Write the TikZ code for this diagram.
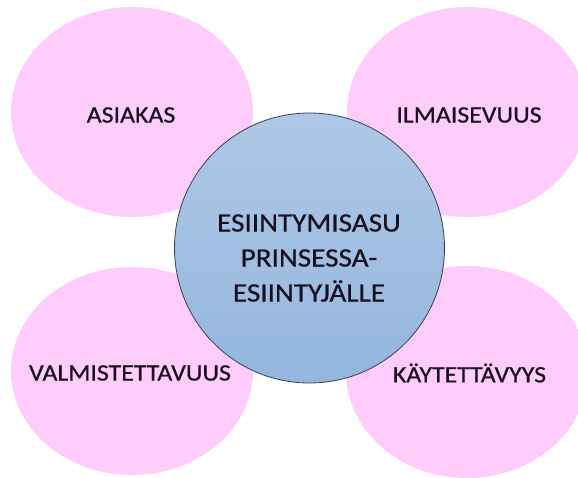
\documentclass[tikz,border=0pt]{standalone}
\usepackage{fontspec}
\setmainfont{Carlito}[FakeStretch=1.1,FakeBold=0.6]
\definecolor{petal}{RGB}{255,205,251}
\definecolor{hubtop}{RGB}{174,200,230}
\definecolor{hubbot}{RGB}{148,182,222}
\definecolor{hubline}{RGB}{60,60,90}
\definecolor{ink}{RGB}{25,15,30}
\begin{document}
\begin{tikzpicture}[x=1pt,y=-1pt,
  petalshape/.style={fill=petal,draw=none},
  petaltext/.style={text=ink,font=\fontsize{23.5}{28}\selectfont,inner sep=0pt},
  hubtext/.style={text=ink,font=\fontsize{26.5}{35}\selectfont,align=center,inner sep=0pt}]
\useasboundingbox (0,0) rectangle (578,477);
\fill[white] (0,0) rectangle (578,477);
\begin{scope}
\clip (0,0) rectangle (578,477);
\path[petalshape] (132,112) ellipse [x radius=121,y radius=105];
\path[petalshape] (467,112) ellipse [x radius=120,y radius=105];
\path[petalshape] (132,371) ellipse [x radius=121,y radius=104];
\path[petalshape] (467,372) ellipse [x radius=121,y radius=106];
\end{scope}
\node[petaltext] (asiakas) at (131,115) {ASIAKAS};
\node[petaltext] (ilmaisevuus) at (469,115) {ILMAISEVUUS};
\node[petaltext] (valmistettavuus) at (130,373) {VALMISTETTAVUUS};
\shade[top color=hubtop,bottom color=hubbot,draw=hubline,line width=0.8pt] (309.5,248) circle [radius=135];
\node[hubtext] (hub) at (309,258) {ESIINTYMISASU\\PRINSESSA-\\ESIINTYJÄLLE};
\node[petaltext] (kaytettavyys) at (469.5,373) {KÄYTETTÄVYYS};
\end{tikzpicture}
\end{document}
